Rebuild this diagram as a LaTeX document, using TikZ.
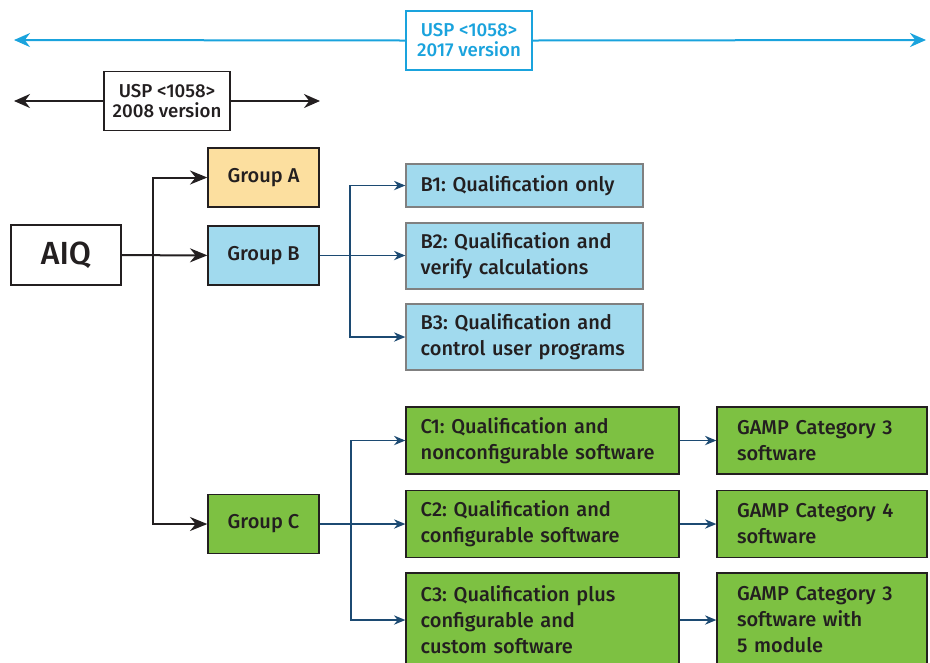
\documentclass[tikz,border=0pt]{standalone}
\usepackage{fontspec}
\setmainfont{Fira Sans}[UprightFont=* Medium]
\usetikzlibrary{arrows.meta,positioning}
\definecolor{uspblue}{HTML}{1AA3DD}
\definecolor{linkblue}{HTML}{1C4A72}
\definecolor{ink}{HTML}{231F20}
\definecolor{fillA}{HTML}{FCDF9F}
\definecolor{fillB}{HTML}{A1DAEE}
\definecolor{fillC}{HTML}{7DC142}
\frenchspacing

\begin{document}
\begin{tikzpicture}[x=0.75pt,y=-0.75pt,
    txt/.style={font=\fontsize{15pt}{19.5pt}\selectfont,text=ink},
    group/.style={txt,draw=ink,line width=1pt,minimum width=83.25pt,minimum height=44.25pt},
    leaf/.style={txt,draw=#1,line width=1pt,align=left,inner xsep=11pt,inner ysep=2pt},
    version/.style={font=\fontsize{14pt}{15pt}\selectfont,align=center,fill=white,line width=1pt,
        minimum width=94.5pt,minimum height=44.25pt},
    span/.style={-{Stealth[length=12pt,width=10.5pt]},line width=1.5pt},
    main/.style={-{Stealth[length=13pt,width=10.5pt]},draw=ink,line width=1.5pt},
    sub/.style={-{Stealth[length=8.5pt,width=7pt]},draw=linkblue,line width=1pt}]
\clip (0,0) rectangle (930,662);

\coordinate (l17) at (14,40);
\coordinate (r17) at (926,40);
\node[version,draw=uspblue,text=uspblue] (usp17) at (469,40.5) {USP <1058>\\2017 version};
\draw[span,uspblue] (usp17.west) -- (l17);
\draw[span,uspblue] (usp17.east) -- (r17);

\coordinate (l08) at (14,101);
\coordinate (r08) at (320,101);
\node[version,draw=ink,text=ink] (usp08) at (167,101) {USP <1058>\\2008 version};
\draw[span,ink] (usp08.west) -- (l08);
\draw[span,ink] (usp08.east) -- (r08);

\node[group,fill=white,minimum width=82.5pt,minimum height=45pt,font=\fontsize{24pt}{24pt}\selectfont] (aiq) at (66,255) {AIQ};
\node[group,fill=fillA] (grpA) at (263.5,177.5) {Group A};
\node[group,fill=fillB] (grpB) at (263.5,255.5) {Group B};
\node[group,fill=fillC] (grpC) at (263.5,524) {Group C};

\node[leaf=gray,fill=fillB,text width=155.75pt,minimum height=32.25pt] (b1) at (524.5,185.5) {B1: Qualification only};
\node[leaf=gray,fill=fillB,text width=155.75pt,minimum height=49.5pt] (b2) at (524.5,256) {B2: Qualification and\\verify calculations};
\node[leaf=gray,fill=fillB,text width=155.75pt,minimum height=49.5pt] (b3) at (524.5,337) {B3: Qualification and\\control user programs};

\node[leaf=ink,fill=fillC,text width=182.75pt,minimum height=50.25pt] (c1) at (542.5,440.5) {C1: Qualification and\\nonconfigurable software};
\node[leaf=ink,fill=fillC,text width=182.75pt,minimum height=50.25pt] (c2) at (542.5,524) {C2: Qualification and\\configurable software};
\node[leaf=ink,fill=fillC,text width=182.75pt,minimum height=70.5pt] (c3) at (542.5,620) {C3: Qualification plus\\configurable and\\custom software};

\node[leaf=ink,fill=fillC,inner xsep=15pt,text width=127.5pt,minimum height=50.25pt] (gamp1) at (822,440.5) {GAMP Category 3\\software};
\node[leaf=ink,fill=fillC,inner xsep=15pt,text width=127.5pt,minimum height=50.25pt] (gamp2) at (822,524) {GAMP Category 4\\software};
\node[leaf=ink,fill=fillC,inner xsep=15pt,text width=127.5pt,minimum height=70.5pt] (gamp3) at (822,620) {GAMP Category 3\\software with\\5 module};

\coordinate (jA) at (153,255);
\draw[main] (aiq) -- (grpB);
\draw[main] (jA) |- (grpA);
\draw[main] (jA) |- (grpC);

\coordinate (jB) at (350,255.5);
\draw[sub] (grpB) -- (grpB -| b2.west);
\draw[sub] (jB) |- (b1);
\draw[sub] (jB) |- (b3);

\coordinate (jC) at (351,524);
\draw[sub] (grpC) -- (c2);
\draw[sub] (jC) |- (c1);
\draw[sub] (jC) |- (c3);

\draw[sub] (c1) -- (gamp1);
\draw[sub] (c2) -- (gamp2);
\draw[sub] (c3) -- (gamp3);
\end{tikzpicture}
\end{document}
